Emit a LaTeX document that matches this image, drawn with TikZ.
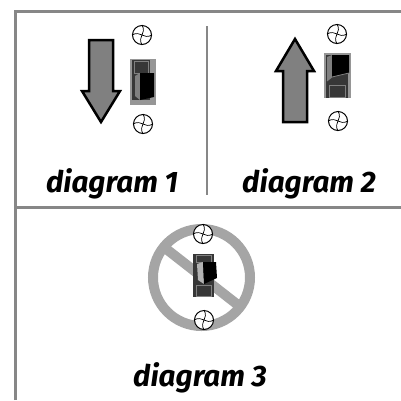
\documentclass[tikz,border=0pt]{standalone}
\usepackage{fontspec}
\setmainfont{Fira Sans}
\usetikzlibrary{positioning}

\definecolor{framegray}{RGB}{135,135,135}
\definecolor{arrowgray}{RGB}{128,128,128}
\definecolor{signgray}{RGB}{165,165,165}
\definecolor{halogray}{RGB}{150,150,150}
\definecolor{bodygray}{RGB}{55,55,55}

\tikzset{
  frameline/.style={draw=framegray,line width=2.5pt},
  bigarrow/.style={draw=black,line width=2.5pt,fill=arrowgray,miter limit=10},
  caption/.style={font=\fontsize{29.6}{32}\selectfont\bfseries\itshape,inner sep=0pt,anchor=base},
  screwhead/.style={circle,draw=black,fill=white,line width=1pt,minimum size=19pt,inner sep=0pt},
}

% one screw: circle with a bent cross in it
\newcommand{\screw}[2]{
  \node [screwhead] (#1) at (#2) {};
  \draw [line width=0.7pt] (#1.west) .. controls +(9,-5) and +(-9,5) .. (#1.east)
    (#1.north) .. controls +(5,9) and +(-5,-9) .. (#1.south);
}

\begin{document}
\begin{tikzpicture}[x=1pt,y=-1pt]
  \useasboundingbox (0,0) rectangle (401,400);

  % frame
  \draw [frameline] (15.5,400) -- (15.5,11.5) -- (401,11.5);
  \draw [frameline] (15.5,207.5) -- (401,207.5);
  \draw [framegray,line width=1.8pt] (206.7,26) -- (206.7,195);

  % diagram 1
  \draw [bigarrow] (89,40) -- (113,40) -- (113,91) -- (120,91) -- (101,122) -- (82,91) -- (89,91) -- cycle;
  \screw{Ascrew_top}{142,35}
  \screw{Ascrew_bot}{143,124}
  \begin{scope}[shift={(130,59)}]
    \fill [halogray] (0,0) rectangle (26,46);
    \fill [bodygray] (2,1) rectangle (20,41);
    \draw [arrowgray,line width=0.6pt] (4,2) rectangle (18,14);
    \fill [arrowgray] (5,17) -- (10,14) -- (10,41) -- (5,37) -- cycle;
    \fill [black] (10,14) -- (24,14) -- (24,38) -- (10,41) -- cycle;
  \end{scope}
  \node [caption] (Acap) at (112,192) {diagram 1};

  % diagram 2
  \draw [bigarrow] (283,122) -- (307,122) -- (307,71) -- (314,71) -- (295,39) -- (276,71) -- (283,71) -- cycle;
  \screw{Bscrew_top}{337,34}
  \screw{Bscrew_bot}{338,121}
  \begin{scope}[shift={(324,53)}]
    \fill [halogray] (0,0) rectangle (27,45);
    \fill [bodygray] (2,2) rectangle (24,45);
    \draw [arrowgray,line width=0.6pt] (5,32) rectangle (21,44);
    \fill [arrowgray] (3,4) -- (8,2) -- (8,24) -- (3,28) -- cycle;
    \fill [black] (8,2) -- (25,2) -- (25,20) -- (8,24) -- cycle;
    \draw [arrowgray,line width=0.8pt] (3,28) -- (8,24) -- (25,20);
  \end{scope}
  \node [caption] (Bcap) at (309,192) {diagram 2};

  % diagram 3
  \draw [signgray,line width=10pt] (201.5,277.5) circle (48.5);
  \draw [signgray,line width=10pt] (165,248) -- (238,305);
  \screw{Cscrew_top}{203,234}
  \screw{Cscrew_bot}{204,320}
  \begin{scope}[shift={(193,254)}]
    \fill [bodygray] (0,0) rectangle (21,43);
    \draw [arrowgray,line width=0.6pt] (3,1) rectangle (18,8);
    \draw [arrowgray,line width=0.6pt] (3,31) rectangle (18,42);
    \fill [arrowgray!60] (4,10) -- (10,8) -- (11,30) -- (5,26) -- cycle;
    \fill [black] (10,8) -- (23,8) -- (24,24) -- (11,30) -- cycle;
  \end{scope}
  \node [caption] (Ccap) at (200,386) {diagram 3};
\end{tikzpicture}
\end{document}
